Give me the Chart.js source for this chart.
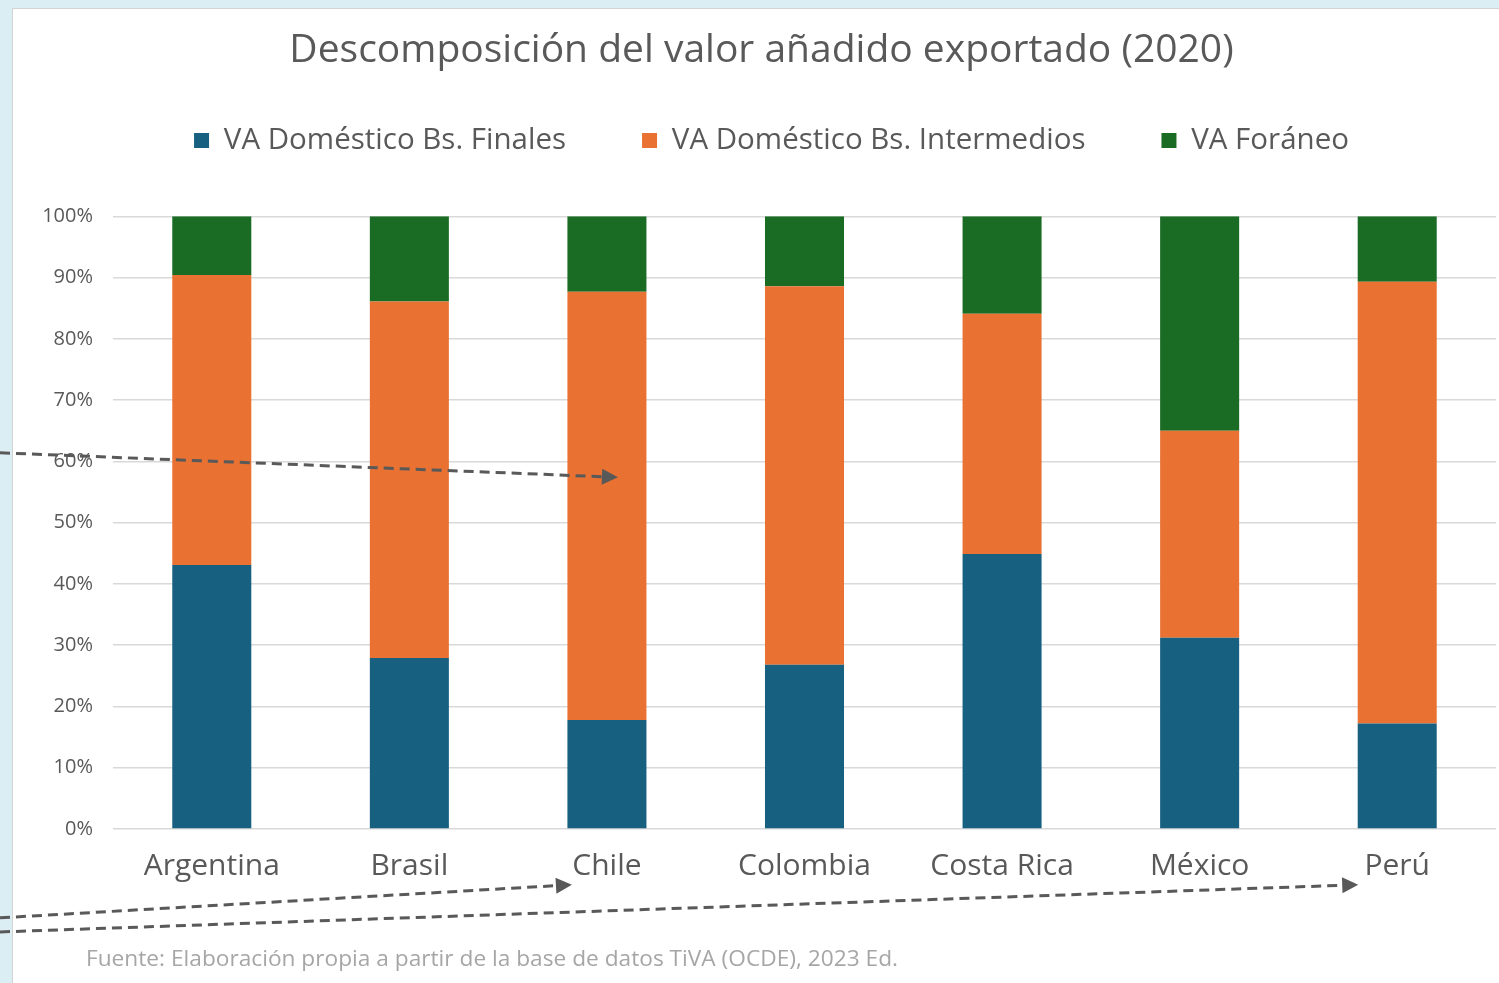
<!DOCTYPE html>
<html lang="es">
<head>
<meta charset="utf-8">
<title>Descomposición del valor añadido exportado (2020)</title>
<script src="https://cdn.jsdelivr.net/npm/chart.js@4.4.1/dist/chart.umd.min.js"></script>
<style>
  html, body { margin: 0; padding: 0; width: 1499px; height: 983px; overflow: hidden; background: #daeef3; }
  .panel { position: absolute; left: 12px; top: 8px; width: 1500px; height: 990px; background: #fff;
           border-left: 1px solid #d3d3d3; border-top: 1px solid #d3d3d3; }
  .wrap { position: absolute; left: 0; top: 0; width: 1499px; height: 983px; }
</style>
</head>
<body>
<div class="panel"></div>
<div class="wrap"><canvas id="chart" width="1499" height="983"></canvas></div>
<script>
// Categories and values (% of exported value added)
const countries = ["Argentina", "Brasil", "Chile", "Colombia", "Costa Rica", "México", "Perú"];
const vaFinales = [43.1, 27.9, 17.8, 26.8, 44.9, 31.2, 17.2];
const vaIntermedios = [47.3, 58.2, 69.9, 61.8, 39.2, 33.8, 72.1];
const vaForaneo = [9.6, 13.9, 12.3, 11.4, 15.9, 35.0, 10.7];
const yTicks = [0, 10, 20, 30, 40, 50, 60, 70, 80, 90, 100];

const seriesNames = ["VA Doméstico Bs. Finales", "VA Doméstico Bs. Intermedios", "VA Foráneo"];
const seriesColors = ["#176080", "#e97132", "#1a6b24"];

const titleText = "Descomposición del valor añadido exportado (2020)";
const sourceText = "Fuente: Elaboración propia a partir de la base de datos TiVA (OCDE), 2023 Ed.";

// Dashed arrows laid over the slide (start value at left edge, end category + value)
const arrowStart = [61.4, -14.5, -16.8];
const arrowEndCategory = [2, 2, 6];
const arrowEndValue = [57.4, -9.1, -9.1];
const arrowEndShift = [11, -35, -39];

const FONT = "'Open Sans', 'DejaVu Sans', sans-serif";
const GREY = "#595959";

// push the plot down below the legend, and nudge the legend a bit to the right
const legendSpace = {
	id: "legendSpace",
	beforeInit(chart) {
		const fit = chart.legend.fit;
		chart.legend.fit = function () {
			fit.call(this);
			this.height += 51;
		};
	},
	afterLayout(chart) {
		chart.legend.left += 10;
		chart.legend.right += 10;
	}
};

const sourceNote = {
	id: "sourceNote",
	afterDraw(chart) {
		const ctx = chart.ctx;
		ctx.save();
		ctx.font = "22.7px " + FONT;
		ctx.fillStyle = "#a6a6a6";
		ctx.textBaseline = "middle";
		ctx.textAlign = "left";
		ctx.fillText(sourceText, 86, 960);
		ctx.restore();
	}
};

const arrows = {
	id: "arrows",
	afterDraw(chart) {
		const ctx = chart.ctx;
		const x = chart.scales.x;
		const y = chart.scales.y;
		ctx.save();
		ctx.strokeStyle = GREY;
		ctx.fillStyle = GREY;
		ctx.lineWidth = 3;
		for (let i = 0; i < arrowStart.length; i++) {
			const x0 = 0;
			const y0 = y.getPixelForValue(arrowStart[i]);
			const x1 = x.getPixelForValue(arrowEndCategory[i]) + arrowEndShift[i];
			const y1 = y.getPixelForValue(arrowEndValue[i]);
			const ang = Math.atan2(y1 - y0, x1 - x0);
			const head = 16;
			const bx = x1 - head * Math.cos(ang);
			const by = y1 - head * Math.sin(ang);
			ctx.setLineDash([10, 6]);
			ctx.beginPath();
			ctx.moveTo(x0, y0);
			ctx.lineTo(bx, by);
			ctx.stroke();
			ctx.setLineDash([]);
			ctx.beginPath();
			ctx.moveTo(x1, y1);
			ctx.lineTo(bx + 8 * Math.sin(ang), by - 8 * Math.cos(ang));
			ctx.lineTo(bx - 8 * Math.sin(ang), by + 8 * Math.cos(ang));
			ctx.closePath();
			ctx.fill();
		}
		ctx.restore();
	}
};

const seriesData = [vaFinales, vaIntermedios, vaForaneo];

const context = document.getElementById("chart").getContext("2d");
const chart = new Chart(context, {
	type: "bar",
	data: {
		labels: countries,
		datasets: seriesData.map((values, i) => ({
			label: seriesNames[i],
			data: values,
			backgroundColor: seriesColors[i],
			borderWidth: 0,
			barPercentage: 1,
			categoryPercentage: 0.4
		}))
	},
	options: {
		responsive: false,
		animation: false,
		layout: { padding: { left: 27, right: 3, top: 0, bottom: 88 } },
		plugins: {
			title: {
				display: true,
				text: titleText,
				color: GREY,
				font: { family: FONT, size: 39, weight: "normal" },
				padding: { top: 27, bottom: -24 }
			},
			legend: {
				position: "top",
				labels: {
					boxWidth: 15,
					boxHeight: 15,
					padding: 76,
					color: GREY,
					font: { family: FONT, size: 29.5 }
				}
			},
			tooltip: { enabled: false }
		},
		scales: {
			x: {
				stacked: true,
				grid: { display: false },
				border: { display: false },
				ticks: { color: GREY, padding: 11, font: { family: FONT, size: 30 } }
			},
			y: {
				stacked: true,
				min: 0,
				max: 100,
				afterBuildTicks(scale) {
					scale.ticks = yTicks.map(v => ({ value: v }));
				},
				afterFit(scale) {
					scale.width = 86;
				},
				grid: { color: "#d9d9d9", lineWidth: 1.5, drawTicks: false },
				border: { display: false },
				ticks: {
					color: GREY,
					padding: 20,
					font: { family: FONT, size: 20 },
					callback: v => v + "%"
				}
			}
		}
	},
	plugins: [legendSpace, sourceNote, arrows]
});
</script>
</body>
</html>
